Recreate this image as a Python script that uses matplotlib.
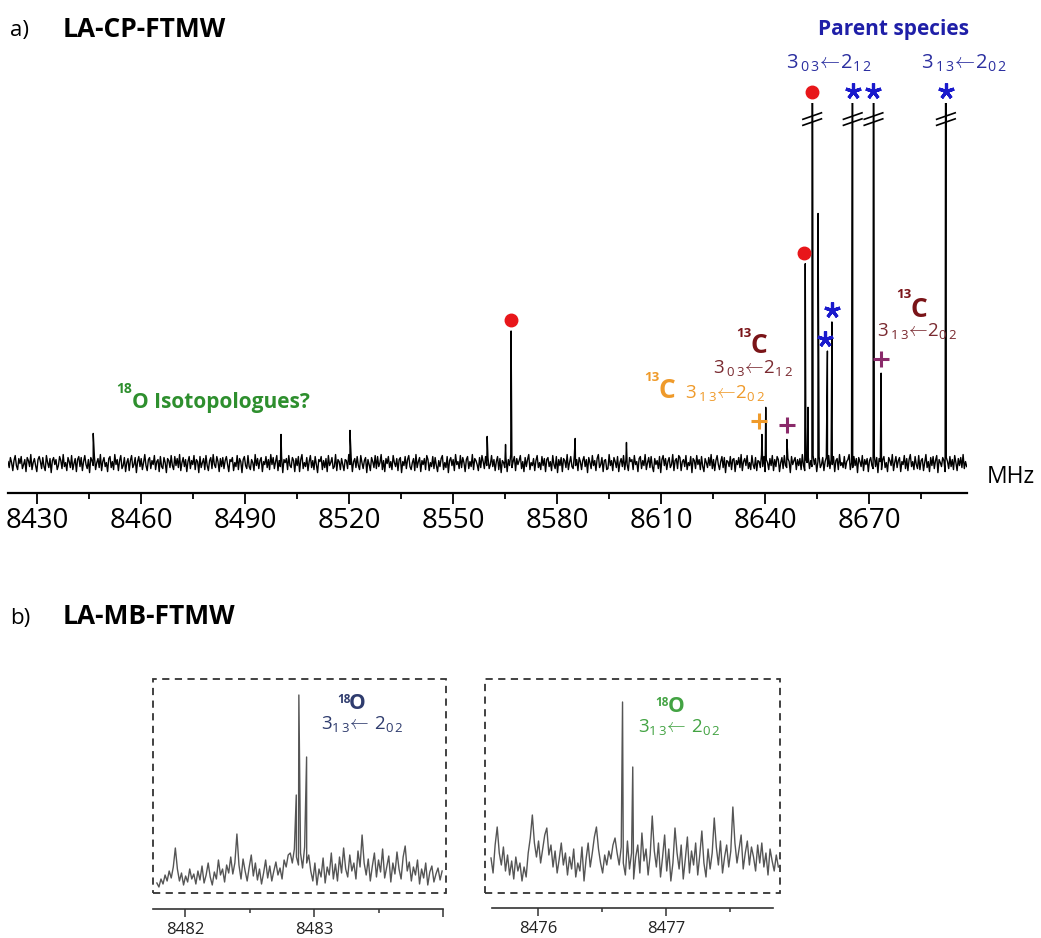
import numpy as np
import matplotlib
matplotlib.use("Agg")
import matplotlib.pyplot as plt
from matplotlib.patches import Rectangle

# ---------------------------------------------------------------------------
# Data
# ---------------------------------------------------------------------------
# a) LA-CP-FTMW broadband spectrum (MHz, arbitrary intensity)
cp_range = (8421.5, 8698.2)
cp_noise = [
    2, -4, 6, 1, -7, 3, 8, -2, -6, 5, 0, 7, -5, -1, 4, -8, 6, 3, -3, 9,
    -6, 1, 5, -2, -8, 4, 7, 2, -5, 6, -3, -7, 8, 1, -4, 5, -9, 3, 6, -1,
    4, -6, -2, 7, 3, -5, 9, -3, 1, -7, 6, 2, -4, 8, -6, 0, 5, -8, 4, 7,
    -3, 6, -7, 2, 8, -1, -5, 4, -9, 6, 3, -2, 7, -6, 1, 5, -4, 9, -7, 2,
    6, -3, 1, -8, 5, 7, -4, 2, -6, 9, -1, 4, -7, 3, 8, -5, -2, 6, -8, 1,
    5, -7, 3, 8, -4, -1, 6, -9, 2, 7, -3, 5, -6, 1, 9, -2, -7, 4, 6, -5,
    3, -1, 8, -6, 2, 4, -8, 7, -3, -5, 6, 1, -9, 5, 3, -4, 8, -2, -6, 7,
    -2, 5, -4, 9, -7, 1, 6, -3, 4, -8, 2, 7, -5, 3, -1, 8, -6, 4, 2, -9,
    7, -4, 1, 5, -6, 8, -2, -7, 3, 6, -5, 9, -1, -4, 7, 2, -8, 5, -3, 6,
    -5, 3, 7, -1, -8, 4, 2, 6, -7, 1, -3, 8, -6, 5, 2, -9, 4, 7, -2, -5,
    8, -3, -6, 4, 1, -7, 9, -2, 5, -5, 3, 6, -8, 2, -1, 7, -4, 4, -6, 9,
    -1, 6, -5, 2, 8, -7, 3, -3, 7, -9, 4, 1, 5, -6, 8, -2, -4, 6, 3, -8,
    5, -2, 7, -8, 4, 9, -5, 1, -3, 6, -7, 2, 8, -4, 3, -6, 7, -1, -9, 4,
    2, 7, -6, 3, -4, 5, -8, 8, -2, 1, 6, -5, -3, 9, -7, 4, 2, -6, 5, -1,
    -7, 4, 3, -5, 9, -1, 6, -8, 2, 5, -4, 7, -2, -6, 8, 1, -5, 3, 6, -9,
    4, -1, -7, 6, 2, -4, 8, -5, 7, -3, 1, 9, -6, 3, -8, 5, 0, 7, -4, 2,
    -6, 8, 1, -3, 5, -7, 4, 6, -9, 2, -2, 7, -5, 4, 8, -3, -6, 1, 5, -7,
    9, -4, 2, 6, -8, 3, -1, 5, -6, 8, 4, -7, 1, -3, 7, -5, 6, -2, -8, 3,
    -3, 5, 8, -6, 1, -4, 7, -9, 3, 6, -2, 4, -7, 9, -1, 2, -5, 8, -4, 6,
    1, -8, 4, 7, -5, 2, -3, 9, -6, 5, 3, -1, -7, 6, -4, 8, 2, -5, 7, -2,
    6, -5, -1, 8, -3, 4, -7, 2, 7, -6, 5, -9, 3, 1, -4, 6, -8, 4, -2, 9,
    -4, 2, 7, -7, 5, -1, 3, 8, -5, 2, -8, 6, -3, 4, 9, -6, 1, -2, 5, -7,
    3, 8, -4, 1, -6, 7, -2, 5, -8, 4, 6, -3, 2, -7, 8, -1, -5, 7, -9, 4,
    -2, 6, -8, 5, 3, -4, 9, -6, 1, 7, -3, -5, 8, -2, 4, -7, 6, 2, -6, 3,
    7, -3, 4, -9, 6, 1, -5, 8, -2, 3, -7, 5, 9, -4, -1, 6, -8, 3, 4, -6,
    -5, 9, -2, 3, -7, 6, 2, -4, 7, -8, 1, 5, -3, 8, -6, 4, -1, -7, 6, 2,
    4, -6, 8, -1, 2, -8, 5, 7, -5, 3, -2, 9, -6, 1, 6, -4, 7, -3, -8, 5,
    -1, 3, -5, 7, -9, 4, 8, -2, 5, -6, 2, 6, -4, -1, 9, -7, 3, 5, -5, 8,
    6, -7, 2, 4, -3, 8, -6, 1, -2, 7, -9, 5, 3, -5, 8, -1, 4, -6, 7, -3,
    -8, 5, 1, -4, 6, -2, 9, -5, 4, -7, 3, 8, -1, -6, 2, 7, -4, 6, -9, 3,
    2, -3, 7, -6, 4, 5, -8, 3, -1, 6, -4, 9, -7, 2, 5, -2, 8, -5, 1, -6,
    8, -1, -5, 6, -7, 3, 2, -4, 9, -3, 7, -8, 4, 1, -6, 5, -2, 8, -7, 4,
    -3, 7, 4, -8, 1, 6, -5, 8, -2, -4, 5, 2, -9, 7, -1, 3, 6, -6, 4, -2,
    5, -6, 9, -2, -7, 4, 1, 6, -5, 3, -3, 8, -1, 5, -8, 2, 7, -4, -1, 6,
    -7, 2, 6, -3, 8, -5, 4, -1, 7, -8, 3, 5, -6, 9, -2, 1, -4, 7, -5, 2,
    4, 9, -6, 1, -4, 7, -2, 5, -9, 6, 2, -3, 8, -7, 4, -1, 5, -8, 3, 6,
    -2, -5, 8, -3, 6, -9, 5, 2, -6, 4, 7, -4, 1, -8, 6, 3, -2, 9, -7, 1,
    7, -4, 3, 6, -8, 2, -1, 8, -5, 5, -7, 4, 9, -3, 2, -6, 7, -1, -5, 8,
    -6, 3, 5, -7, 1, 9, -4, 2, -8, 6, -2, 7, -5, 3, 8, -9, 4, 1, -3, 6,
    3, -8, 6, 2, -5, 7, -3, 4, -6, 8, 1, -7, 5, -2, 6, -4, 9, -5, 2, -3,
]
cp_peak_freq = [8446.1, 8500.3, 8520.2, 8559.8, 8565.1, 8566.7, 8585.2, 8600.0,
                8639.1, 8640.2, 8646.3, 8651.6, 8652.4, 8653.6, 8655.3, 8658.0,
                8659.3, 8665.3, 8671.3, 8673.5, 8692.2]
cp_peak_int = [30, 29, 33, 27, 19, 132, 25, 21,
               29, 56, 24, 199, 56, 700, 249, 112,
               141, 700, 700, 90, 700]
cp_ylim = (-29, 359)

# assignment markers: (frequency, intensity the marker sits above)
dot_marks = [(8566.7, 132), (8651.1, 199), (8653.6, 359)]
star_marks = [(8665.3, 359), (8671.3, 359), (8692.2, 359), (8659.3, 141), (8657.4, 112)]
plus_parent13c = [(8646.3, 24), (8673.5, 90)]
plus_orange13c = [(8638.3, 29)]

# b) LA-MB-FTMW zooms
mb1_range = (8481.78, 8483.99)
mb1_noise = [
    10, 6, 14, 9, 18, 12, 22, 15, 26, 45, 24, 12, 20, 8, 17, 11, 24, 14, 19, 9,
    22, 13, 27, 10, 18, 30, 16, 8, 21, 14, 33, 18, 24, 11, 28, 20, 36, 19, 30, 59,
    28, 14, 34, 22, 12, 26, 38, 17, 30, 13, 24, 9, 20, 33, 15, 27, 12, 22, 31, 18,
    25, 14, 33, 26, 38, 40, 30, 44, 36, 28, 40, 25, 46, 30, 38, 22, 12, 30, 8, 24,
    16, 35, 10, 26, 18, 40, 14, 29, 12, 36, 20, 45, 24, 16, 38, 22, 30, 14, 42, 26,
    58, 30, 18, 34, 12, 27, 40, 16, 33, 21, 44, 15, 26, 37, 11, 30, 19, 41, 24, 14,
    36, 47, 22, 31, 12, 26, 18, 33, 9, 24, 15, 30, 8, 21, 27, 11, 19, 25, 13, 22,
]
mb1_peak_freq = [8482.86, 8482.88, 8482.94]
mb1_peak_int = [98, 198, 136]
mb1_ticks = [8482, 8483, 8484]
mb1_ticklabels = ["8482", "8483", ""]

mb2_range = (8475.63, 8477.88)
mb2_noise = [
    35, 20, 48, 66, 40, 28, 46, 22, 38, 18, 32, 14, 36, 22, 30, 12, 26, 16, 40, 55,
    78, 50, 36, 52, 30, 44, 58, 65, 38, 48, 26, 42, 20, 34, 50, 28, 40, 18, 36, 24,
    44, 16, 30, 22, 46, 12, 34, 50, 26, 40, 56, 66, 44, 30, 20, 38, 28, 42, 34, 48,
    55, 40, 28, 46, 30, 18, 52, 24, 40, 14, 36, 48, 20, 60, 32, 44, 18, 38, 77, 42,
    26, 50, 16, 36, 58, 22, 44, 12, 30, 65, 40, 24, 48, 14, 34, 56, 20, 42, 28, 50,
    18, 38, 62, 30, 16, 44, 24, 40, 75, 46, 28, 52, 20, 36, 48, 26, 42, 86, 50, 30,
    44, 58, 24, 40, 52, 28, 46, 36, 22, 48, 30, 50, 26, 40, 18, 44, 32, 22, 38, 26,
]
mb2_peak_freq = [8476.66, 8476.74]
mb2_peak_int = [191, 126]
mb2_ticks = [8476, 8477]
mb2_ticklabels = ["8476", "8477"]

cp_ticks = list(range(8430, 8671, 30))
cp_ticklabels = [str(t) for t in cp_ticks]
cp_minor = list(range(8445, 8686, 30))

# ---------------------------------------------------------------------------
# Style
# ---------------------------------------------------------------------------
plt.rcParams["font.family"] = ["Open Sans", "DejaVu Sans"]
plt.rcParams["mathtext.fontset"] = "custom"
plt.rcParams["mathtext.rm"] = "Open Sans"
plt.rcParams["mathtext.it"] = "Open Sans:italic"
plt.rcParams["mathtext.bf"] = "Open Sans:bold"
plt.rcParams["mathtext.default"] = "rm"

BLUE = "#1f1fa8"
BLUE_T = "#2b2fa0"
BROWN = "#7a1418"
BROWN_T = "#7a2a30"
ORANGE = "#ef9a2a"
PURPLE = "#8a2a6a"
GREEN = "#2e8f2e"
NAVY = "#2f3c6e"
GREEN2 = "#43a343"
RED = "#e8161a"

W, H = 1041, 938
fig = plt.figure(figsize=(W / 100, H / 100), dpi=100)


def fx(x):
    return x / W


def fy(y):
    return 1 - y / H


def spectrum(rng, noise, pf, pi):
    f = np.linspace(rng[0], rng[1], len(noise))
    f = np.concatenate([f, np.asarray(pf, float)])
    v = np.concatenate([np.asarray(noise, float), np.asarray(pi, float)])
    order = np.argsort(f, kind="stable")
    return f[order], v[order]


def transition(sup_lo, sub_lo, sup_hi, sub_hi):
    return (r"$%s_{%s}\!\leftarrow\!%s_{%s}$" % (sup_lo, sub_lo, sup_hi, sub_hi))


# ---------------------------------------------------------------------------
# a) broadband spectrum
# ---------------------------------------------------------------------------
ax = fig.add_axes([fx(8), fy(492.7), (966.7 - 8) / W, (492.7 - 103) / H])
f, v = spectrum(cp_range, cp_noise, cp_peak_freq, cp_peak_int)
ax.plot(f, v, color="black", lw=1.0)
ax.set_xlim(8421.5, 8698.2)
ax.set_ylim(*cp_ylim)
for s in ("left", "right", "top"):
    ax.spines[s].set_visible(False)
ax.spines["bottom"].set_linewidth(1.6)
ax.set_yticks([])
ax.set_xticks(cp_ticks)
ax.set_xticklabels(cp_ticklabels)
ax.set_xticks(cp_minor, minor=True)
ax.tick_params(axis="x", which="major", direction="out", length=8, width=1.3,
               labelsize=20, pad=2)
ax.tick_params(axis="x", which="minor", direction="out", length=4.5, width=1.3)

# axis break marks on the clipped lines
top = cp_ylim[1]
for fr, it in zip(cp_peak_freq, cp_peak_int):
    if it > top:
        for yc in (top - 13, top - 19):
            ax.plot([fr - 2.9, fr + 2.9], [yc - 3.5, yc + 3.5], color="black",
                    lw=1.2, clip_on=False, solid_capstyle="butt")

# assignment markers
for fr, it in dot_marks:
    ax.plot([fr], [it + 11], "o", color=RED, ms=9, clip_on=False)
for fr, it in star_marks:
    ax.plot([fr], [it + 12], marker=(5, 2, 0), color="#1a1acc", ms=11.5, mew=2.3,
            clip_on=False, linestyle="none")
for fr, it in plus_parent13c:
    ax.plot([fr], [it + 14], "+", color=PURPLE, ms=11, mew=2.2, clip_on=False)
for fr, it in plus_orange13c:
    ax.plot([fr], [it + 13], "+", color=ORANGE, ms=11, mew=2.2, clip_on=False)

# ---------------------------------------------------------------------------
# b) molecular-beam zooms
# ---------------------------------------------------------------------------
def inset(box_px, spine_bounds, rng, noise, pf, pi, ticks, labels, xlim, ylim,
          axis_y):
    x0, x1, y0, y1 = box_px
    a = fig.add_axes([fx(x0), fy(axis_y), (x1 - x0) / W, (axis_y - y0) / H])
    fr, va = spectrum(rng, noise, pf, pi)
    a.plot(fr, va, color="#555555", lw=1.0)
    a.set_xlim(*xlim)
    a.set_ylim(*ylim)
    for s in ("left", "right", "top"):
        a.spines[s].set_visible(False)
    a.spines["bottom"].set_bounds(*spine_bounds)
    a.spines["bottom"].set_linewidth(1.2)
    a.spines["bottom"].set_color("#333333")
    a.set_yticks([])
    a.set_xticks(ticks)
    a.set_xticklabels(labels)
    a.set_xticks([t + 0.5 for t in ticks if t + 0.5 < spine_bounds[1]], minor=True)
    a.tick_params(axis="x", which="major", direction="out", length=6, width=1.1,
                  labelsize=12, pad=3, colors="#333333", labelcolor="#222222")
    a.tick_params(axis="x", which="minor", direction="out", length=3, width=1.1,
                  colors="#333333")
    a.add_patch(Rectangle((xlim[0], 0), xlim[1] - xlim[0], ylim[1],
                          fill=False, ls=(0, (4, 3)), lw=1.3, ec="#333333",
                          clip_on=False))
    return a


inset((153, 446, 679, 893), (8481.75, 8484.0), mb1_range, mb1_noise,
      mb1_peak_freq, mb1_peak_int, mb1_ticks, mb1_ticklabels,
      (8481.75, 8484.02), (-16, 214), 909)
inset((485, 780, 679, 893), (8475.64, 8477.84), mb2_range, mb2_noise,
      mb2_peak_freq, mb2_peak_int, mb2_ticks, mb2_ticklabels,
      (8475.583, 8477.893), (-15, 214), 908)

# ---------------------------------------------------------------------------
# Labels
# ---------------------------------------------------------------------------
def t(x, y, s, **kw):
    kw.setdefault("va", "baseline")
    kw.setdefault("ha", "left")
    fig.text(fx(x), fy(y), s, **kw)


t(10, 36, "a)", fontsize=16)
t(63, 37, "LA-CP-FTMW", fontsize=19, fontweight="bold")
t(10, 624, "b)", fontsize=16)
t(63, 624, "LA-MB-FTMW", fontsize=19, fontweight="bold")

t(894, 35, "Parent species", fontsize=15, fontweight="bold", color=BLUE, ha="center")
t(786, 69, transition(r"3\,", r"0\,3", "2", r"1\,2"), fontsize=14.5, color=BLUE_T)
t(921, 69, transition(r"3\,", r"1\,3", "2", r"0\,2"), fontsize=14.5, color=BLUE_T)

# 13C labels
t(736, 337, "13", fontsize=9.5, fontweight="bold", color=BROWN)
t(750, 353, "C", fontsize=19, fontweight="bold", color=BROWN)
t(713, 373, transition(r"3\,", r"0\,3", "2", r"1\,2"), fontsize=13.5, color=BROWN_T)
t(896, 298, "13", fontsize=9.5, fontweight="bold", color=BROWN)
t(910, 317, "C", fontsize=19, fontweight="bold", color=BROWN)
t(877, 336, transition(r"3\,", r"1\,3", "2", r"0\,2"), fontsize=13.5, color=BROWN_T)

t(644, 381, "13", fontsize=9.5, fontweight="bold", color=ORANGE)
t(659, 398, "C", fontsize=19, fontweight="bold", color=ORANGE)
t(685, 398, transition(r"3\,", r"1\,3", "2", r"0\,2"), fontsize=13.5, color=ORANGE)

t(116, 393, "18", fontsize=10, fontweight="bold", color=GREEN)
t(132, 408, "O Isotopologues?", fontsize=15, fontweight="bold", color=GREEN)

t(987, 483, "MHz", fontsize=16.5)

# inset labels
t(337, 703, "18", fontsize=8.5, fontweight="bold", color=NAVY)
t(349, 709, "O", fontsize=15, fontweight="bold", color=NAVY)
t(321, 729, r"$3_{1\,3}\!\leftarrow\,2_{0\,2}$", fontsize=13.5, color=NAVY,
  family=["Liberation Sans", "DejaVu Sans"])
t(655, 706, "18", fontsize=8.5, fontweight="bold", color=GREEN2)
t(668, 712, "O", fontsize=15, fontweight="bold", color=GREEN2)
t(638, 732, r"$3_{1\,3}\!\leftarrow\,2_{0\,2}$", fontsize=13.5, color=GREEN2,
  family=["Liberation Sans", "DejaVu Sans"])

fig.savefig("out.png", dpi=100, facecolor="white")
